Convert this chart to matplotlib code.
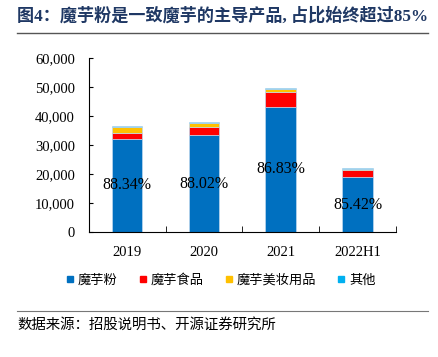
import numpy as np
import matplotlib.pyplot as plt
from matplotlib.lines import Line2D

years = ["2019", "2020", "2021", "2022H1"]
konjac_powder = [32150, 33320, 43240, 18960]
konjac_food = [1850, 2950, 5000, 2500]
konjac_cosmetics = [2150, 1400, 1000, 350]
others = [250, 180, 560, 390]
share_labels = ["88.34%", "88.02%", "86.83%", "85.42%"]

series_names = ["魔芋粉", "魔芋食品", "魔芋美妆用品", "其他"]
colors = ["#0070C0", "#FF0000", "#FFC000", "#00B0F0"]

fonts = ["Liberation Serif", "Noto Sans CJK SC", "DejaVu Sans"]
plt.rcParams["font.family"] = fonts

fig = plt.figure(figsize=(4.38, 3.57), dpi=100)
ax = fig.add_axes([88.7 / 438, 1 - 232 / 357, (396 - 88.7) / 438, (232 - 58) / 357])

x = np.arange(len(years))
bottom = np.zeros(len(years))
for vals, c in zip([konjac_powder, konjac_food, konjac_cosmetics, others], colors):
    ax.bar(x, vals, width=0.4, bottom=bottom, color=c, edgecolor="#BDD7EE", linewidth=0.5)
    bottom += np.array(vals)

# share of konjac powder, placed mid-bar
for i, lab in enumerate(share_labels):
    ax.text(x[i], konjac_powder[i] / 2, lab, ha="center", va="center", fontsize=11.5,
            family="Liberation Serif")

ax.set_xlim(-0.5, len(years) - 0.5)
ax.set_ylim(0, 60000)
ax.set_yticks(np.arange(0, 60001, 10000))
ax.set_yticklabels([f"{v:,}" for v in range(0, 60001, 10000)], fontsize=10.5)
ax.set_xticks(x)
ax.set_xticklabels(years, fontsize=10.5)
ax.set_xticks(np.arange(-0.5, len(years)), minor=True)
ax.tick_params(axis="x", which="major", length=0, pad=10)
ax.tick_params(axis="x", which="minor", direction="in", length=4)
ax.tick_params(axis="y", direction="in", length=3, pad=10)
for s in ["top", "right"]:
    ax.spines[s].set_visible(False)

handles = [Line2D([], [], marker="s", linestyle="", color=c, markersize=5) for c in colors]
fig.legend(handles, series_names, loc="center", bbox_to_anchor=(0.5, 1 - 280 / 357), ncol=4,
           frameon=False, handletextpad=0.0, columnspacing=1.3, handlelength=1.2,
           prop={"family": ["Noto Sans CJK SC"], "size": 9.5})

fig.text(17 / 438, 1 - 16 / 357, "图4：魔芋粉是一致魔芋的主导产品, 占比始终超过85%", fontsize=12.3,
         fontweight="bold", color="#1F3864", va="center", family=fonts)
fig.add_artist(Line2D([17 / 438, 428 / 438], [1 - 33 / 357, 1 - 33 / 357], color="#555555", lw=1))
fig.add_artist(Line2D([17 / 438, 428 / 438], [1 - 311 / 357, 1 - 311 / 357], color="#777777", lw=0.8))
fig.text(17 / 438, 1 - 325 / 357, "数据来源：招股说明书、开源证券研究所", fontsize=10.4, va="center",
         family=["Noto Sans CJK SC"])

fig.savefig("out.png", dpi=100)
